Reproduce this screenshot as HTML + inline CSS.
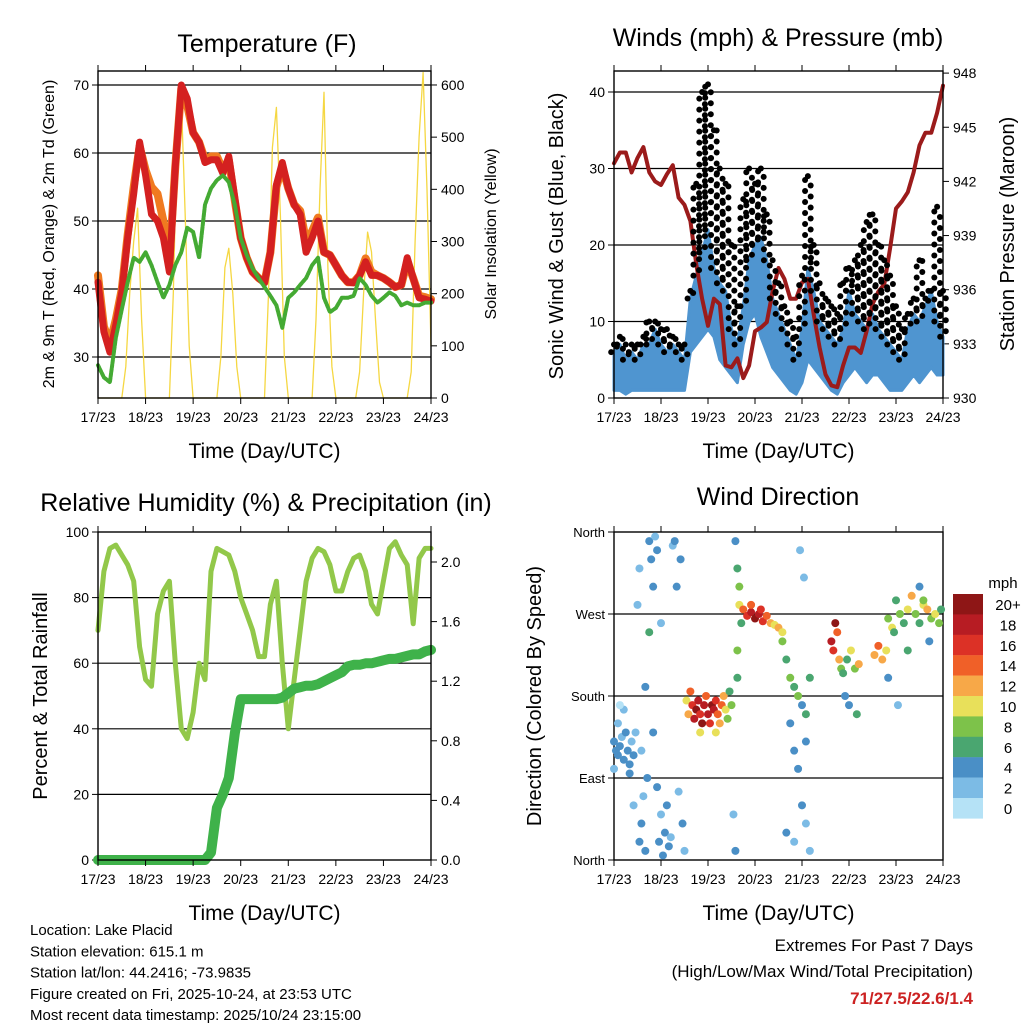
<!DOCTYPE html>
<html><head><meta charset="utf-8"><style>
html,body{margin:0;padding:0;background:#fff}
svg text{font-family:"Liberation Sans",Arial,sans-serif;fill:#000}
</style></head><body>
<svg id="chart" width="1024" height="1024" viewBox="0 0 1024 1024" xmlns="http://www.w3.org/2000/svg"></svg>
<script>
// ---------- data (3-hourly unless noted) ----------
const tempRed = [41,33.7,30.7,34.7,39.5,47.5,54,61.6,56.7,51,50,47.5,42.5,58,70,68,63,61.6,58.6,59,59,57,59.5,53.4,47.5,44.6,42.5,41.6,40.9,45.4,55.3,58.6,54.8,52.4,51,45.4,47.5,50,45.4,45,43.5,42,41,40.9,42,44,42,42,41.6,41,40.3,40.6,44.6,41.6,38.7,38.5,38.2];
const tempOrange = [42,34.5,32,35.5,40,48,55,61,57.5,55,54,50,44,58,69.5,67,63,61.6,59,59.5,59.5,57.5,59,53,47.5,44.6,42.5,41.6,41,45.4,55,58,54.8,52.4,51.5,47,48.5,50.5,45.4,45,43.5,42,41,41,42,44.5,42.5,42,41.6,41,40.3,40.6,44,41.6,39,38.8,38.5];
const dewGreen = [28.8,27,26.3,32.8,37,41,44.6,44,45.4,43.5,41,38.7,40.6,43.5,45.4,49,48.4,44.6,52.4,54.8,56,56.7,55.7,52.4,47.5,45,43,41.6,40.3,39,37.6,34.3,38.7,39.5,40.6,41.6,43.5,44.6,38.7,36.6,37.2,38.7,38.7,39,41.6,40.6,39,38,38.7,39.5,39,37.6,38,37.6,37.6,38,38];
// solar, 2-hourly
const solar = [0,0,0,0,0,0,0,60,200,300,364,150,
  0,0,0,0,0,0,0,200,520,575,350,100,
  0,0,0,0,0,0,0,80,250,287,200,60,
  0,0,0,0,0,0,0,200,480,557,350,80,
  0,0,0,0,0,0,0,150,400,586,250,60,
  0,0,0,0,0,0,50,200,318,280,150,30,
  0,0,0,0,0,0,0,50,300,500,624,400,100];
const pressure = [943,943.6,943.6,942.5,943.3,943.9,942.5,942,941.8,942.4,942.9,941.1,940.7,939.8,937.4,935.5,934,935.5,935.2,931.8,931.7,932.2,931.1,931.8,933.7,933.9,934.2,935.9,937.2,936.6,935.5,935.5,936.4,936.6,934.6,932.8,931.3,930.7,930.6,931.8,932.8,932.8,932.5,933.7,935.2,935.9,936.3,938.3,940.5,940.9,941.4,942.5,944,944.7,944.7,945.8,947.3];
const windHigh = [6,7,5,6,5,7,7,9,7,6,7,6,5,13,16,19,22,17,15,14,9,7,12,18,20,21,18,13,11,9,7,5,9,17,14,10,9,8,7,9,14,11,10,9,11,9,8,7,6,5,9,11,10,12,14,10,8];
const windLow = [1,1,0.5,1,1,1,1,1,1,1,1,1,1,6,7,8,9,8,5,4,3,2,7,10,11,8,6,4,3,2,1,0.5,2,5,4,3,2,1,0.5,2,3,4,3,2,3,3,2,1,1,1,2,3,2,3,4,3,3];
const gustHigh = [7,8,7,7,7,8,10,10,9,9,8,7,7,14,28,40,41,35,30,28,20,12,26,30,28,30,24,18,15,12,10,8,16,29,20,15,13,12,11,15,17,18,20,23,24,20,18,16,12,9,11,13,18,13,14,25,14];
const rh = [70,88,95,96,93,90,85,65,55,53,75,82,85,60,40,37,45,60,55,88,95,94,93,88,80,75,70,62,62,78,85,60,40,55,70,85,92,95,94,90,82,82,88,92,93,88,78,75,85,95,97,93,90,72,92,95,95];
const rain = [0,0,0,0,0,0,0,0,0,0,0,0,0,0,0,0,0,0,0,0.05,0.35,0.44,0.55,0.85,1.08,1.08,1.08,1.08,1.08,1.08,1.08,1.09,1.12,1.15,1.16,1.17,1.17,1.18,1.2,1.22,1.24,1.26,1.3,1.31,1.31,1.32,1.32,1.33,1.34,1.35,1.35,1.36,1.37,1.38,1.38,1.4,1.41];
// wind direction observations
const dirHour = [0,1,2,3,4,5,6,7,8,9,10,11,2,5,8,0,3,10,
 13,14,15,16,17,18,19,20,21,22,23,24,25,16,20,18,22,26,14,12,24,13,28,30,32,34,36,27,29,31,33,35,
 37,38,39,40,41,42,43,44,45,46,47,48,49,50,51,52,53,54,55,56,57,58,60,59,44,52,
 62,63,64,64,65,63,62,61,63,
 66,68,70,72,74,76,78,80,82,84,86,70,75,
 86,88,90,92,94,96,98,90,92,94,96,98,92,100,88,95,97,98,100,
 111,112,113,114,115,116,117,119,121,123,125,118,120,124,133,135,137,139,
 140,142,144,146,148,150,152,154,156,158,160,162,164,166,167,140,145,150,156,143,158,161];
const dirDeg = [130,120,115,125,135,110,140,120,105,130,115,140,150,165,95,100,170,60,
 20,40,70,10,90,350,330,300,355,340,20,50,5,190,140,250,80,30,120,280,260,320,15,345,300,330,10,60,25,350,75,40,
 175,160,185,170,155,165,175,160,150,170,180,160,150,170,165,175,160,150,170,180,165,155,170,185,140,140,
 350,320,300,280,260,230,10,50,200,
 275,268,272,265,270,262,268,260,258,255,250,280,275,
 240,220,200,190,180,170,160,150,120,100,60,40,20,10,30,340,310,130,200,
 240,230,260,250,220,210,205,220,230,210,215,180,170,160,225,235,220,230,
 265,255,285,270,260,275,290,270,260,280,275,265,270,260,275,200,170,230,300,250,285,240];
const dirSpeed = [3,4,3,4,2,3,4,3,4,2,3,1,1,2,4,1,0,1,
 4,3,2,4,3,4,3,4,2,3,4,2,3,4,3,6,4,3,2,2,1,1,4,2,3,4,2,3,1,4,2,3,
 10,12,14,16,18,20,18,16,20,18,14,18,16,20,18,16,14,12,14,12,10,8,8,6,10,10,
 4,6,8,10,6,8,4,2,6,
 14,16,18,20,18,16,14,12,10,12,10,14,16,
 8,6,8,6,8,4,6,4,4,4,4,2,2,2,4,2,2,4,6,
 18,16,20,14,12,8,6,6,10,8,12,4,4,6,12,14,12,10,
 8,10,6,8,6,10,12,8,6,10,12,8,10,8,6,4,2,6,4,6,8,4];
const speedLabels = ["20+","18","16","14","12","10","8","6","4","2","0"];
const speedColors = ["#8e1616","#b71c23","#dc3126","#f06028","#f7a848","#e8e05a","#7dc24a","#4aa670","#4a8fc6","#7cbbe5","#b5e2f6"];
const dayLabels = ["17/23","18/23","19/23","20/23","21/23","22/23","23/23","24/23"];
const tempTicks = [30,40,50,60,70];
const solarTicks = [0,100,200,300,400,500,600];
const windTicks = [0,10,20,30,40];
const presTicks = [930,933,936,939,942,945,948];
const rhTicks = [0,20,40,60,80,100];
const rainTicks = ["0.0","0.4","0.8","1.2","1.6","2.0"];
const dirTicks = ["North","East","South","West","North"];

// ---------- helpers ----------
const svg = document.getElementById('chart');
const NS = 'http://www.w3.org/2000/svg';
function mk(tag, attrs, parent){const e=document.createElementNS(NS,tag);for(const k in attrs)e.setAttribute(k,attrs[k]);(parent||svg).appendChild(e);return e;}
function txt(s, x, y, size, anchor, parent, rot){const e=mk('text',{x:x,y:y,'font-size':size,'text-anchor':anchor||'middle'},parent);if(rot!==undefined)e.setAttribute('transform','rotate('+rot+' '+x+' '+y+')');e.textContent=s;return e;}
function grp(name){const g=mk('g',{});return g;}
const hoursOf = arr => arr.map((v,i)=>i*3);

function panel(P, name){
  const g = grp(name);
  const xs = h => P.x0 + h*(P.x1-P.x0)/168;
  const xa = grp(name+'-x-axis');
  dayLabels.forEach((d,i)=>{
    const x = xs(i*24);
    mk('line',{x1:x,y1:P.y1,x2:x,y2:P.y1+6,stroke:'#000','stroke-width':1},xa);
    mk('line',{x1:x,y1:P.y0,x2:x,y2:P.y0-6,stroke:'#000','stroke-width':1},xa);
    const t = txt(d, x, P.y1+24, 14, 'middle', xa);
    
    
  });
  const xt = txt('Time (Day/UTC)', (P.x0+P.x1)/2, P.y1+60, 21, 'middle', g);
  
  
  return {g, xs};
}
function frame(P, g){
  mk('rect',{x:P.x0,y:P.y0,width:P.x1-P.x0,height:P.y1-P.y0,fill:'none',stroke:'#000','stroke-width':1.4},g);
}
function hline(g,x0,x1,y){mk('line',{x1:x0,x2:x1,y1:y,y2:y,stroke:'#000','stroke-width':1.2},g);}
function tickL(g,P,y,label,size){mk('line',{x1:P.x0-6,x2:P.x0,y1:y,y2:y,stroke:'#000'},g);const t=txt(label,P.x0-9,y+5,size||14,'end',g);}
function tickR(g,P,y,label,size){mk('line',{x1:P.x1,x2:P.x1+6,y1:y,y2:y,stroke:'#000'},g);const t=txt(label,P.x1+10,y+5,size||14,'start',g);}
function poly(xs,ys,hours,vals,attrs,g){const pts=vals.map((v,i)=>xs(hours[i]).toFixed(1)+','+ys(v).toFixed(1)).join(' ');return mk('polyline',Object.assign({points:pts,fill:'none','stroke-linejoin':'round','stroke-linecap':'round'},attrs),g);}

// ---------- Panel 1: Temperature ----------
(function(){
  const P={x0:98,x1:431,y0:71,y1:398};
  const {g,xs}=panel(P,'temperature-panel');
  const yT=v=>357-(v-30)*6.8;
  const yS=v=>398-v*0.5217;
  const t=txt('Temperature (F)',267,52,25,'middle',g);
  tempTicks.forEach(v=>{hline(g,P.x0,P.x1,yT(v));tickL(g,P,yT(v),String(v));});
  solarTicks.forEach(v=>tickR(g,P,yS(v),String(v)));
  const sol=poly(xs,yS,solar.map((v,i)=>i*2),solar,{stroke:'#f5d742','stroke-width':1.3},g);
  
  
  const o=poly(xs,yT,hoursOf(tempOrange),tempOrange,{stroke:'#f07a20','stroke-width':8},g);
  
  
  const r=poly(xs,yT,hoursOf(tempRed),tempRed,{stroke:'#d42020','stroke-width':7},g);
  
  
  const d=poly(xs,yT,hoursOf(dewGreen),dewGreen,{stroke:'#44aa33','stroke-width':4,'stroke-dasharray':'3 1.5'},g);
  
  
  frame(P,g);
  const yl=txt('2m & 9m T (Red, Orange) & 2m Td (Green)',54,234,16,'middle',g,-90);
  const yr=txt('Solar Insolation (Yellow)',496,234,16,'middle',g,-90);
})();

// ---------- Panel 2: Winds & Pressure ----------
(function(){
  const P={x0:614,x1:943,y0:71,y1:398};
  const {g,xs}=panel(P,'winds-panel');
  const yW=v=>398-v*7.65;
  const yP=v=>398-(v-930)*18.05;
  const t=txt('Winds (mph) & Pressure (mb)',778,46,25,'middle',g);
  windTicks.forEach(v=>{if(v>0)hline(g,P.x0,P.x1,yW(v));tickL(g,P,yW(v),String(v));});
  presTicks.forEach(v=>tickR(g,P,yP(v),String(v)));
  const hrs=hoursOf(windHigh);
  const gg=grp('gust-dots');
  hrs.forEach((h,i)=>{
    const top=yW(gustHigh[i]), bot=yW(windHigh[i]);
    let k=0;
    for(let y=bot;y>=top-0.1;y-=5.5){
      const c=mk('circle',{cx:xs(h)+((k%2)?2.8:-2.8),cy:y,r:3,fill:'#000'},gg);
      
      
      k++;
    }
    const c2=mk('circle',{cx:xs(h),cy:top,r:3,fill:'#000'},gg);
    
    
  });
  const pts=hrs.map((h,i)=>xs(h)+','+yW(windHigh[i])).concat(hrs.slice().reverse().map((h,j)=>{const i=hrs.length-1-j;return xs(h)+','+yW(windLow[i]);})).join(' ');
  const band=mk('polygon',{points:pts,fill:'#4f95d0',stroke:'#4f95d0','stroke-width':3,'stroke-linejoin':'round'},g);
  
  
  const p=poly(xs,yP,hoursOf(pressure),pressure,{stroke:'#9b1b1b','stroke-width':4},g);
  
  
  frame(P,g);
  const yl=txt('Sonic Wind & Gust (Blue, Black)',563,236,20,'middle',g,-90);
  const yr=txt('Station Pressure (Maroon)',1014,234,20,'middle',g,-90);
})();

// ---------- Panel 3: RH & Precip ----------
(function(){
  const P={x0:98,x1:431,y0:532,y1:860};
  const {g,xs}=panel(P,'humidity-panel');
  const yR=v=>860-v*3.28;
  const yP=v=>860-v*149;
  const t=txt('Relative Humidity (%) & Precipitation (in)',266,511,25,'middle',g);
  rhTicks.forEach(v=>{if(v>0&&v<100)hline(g,P.x0,P.x1,yR(v));tickL(g,P,yR(v),String(v));});
  rainTicks.forEach(v=>tickR(g,P,yP(parseFloat(v)),v));
  const r=poly(xs,yR,hoursOf(rh),rh,{stroke:'#92c84a','stroke-width':5},g);
  
  
  const p=poly(xs,yP,hoursOf(rain),rain,{stroke:'#3fb24a','stroke-width':10},g);
  
  
  frame(P,g);
  const yl=txt('Percent & Total Rainfall',47,696,20,'middle',g,-90);
})();

// ---------- Panel 4: Wind Direction ----------
(function(){
  const P={x0:614,x1:943,y0:532,y1:860};
  const {g,xs}=panel(P,'wind-direction-panel');
  const yD=v=>860-v*(328/360);
  const t=txt('Wind Direction',778,505,25,'middle',g);
  dirTicks.forEach((s,i)=>{const y=yD(i*90);if(i>0&&i<4)hline(g,P.x0,P.x1,y);tickL(g,P,y,s,13);});
  const pg=grp('direction-points');
  dirHour.forEach((h,i)=>{
    const s=dirSpeed[i];
    const idx=Math.max(0,Math.min(10,10-Math.round(s/2)));
    const c=mk('circle',{cx:xs(h),cy:yD(dirDeg[i]),r:4,fill:speedColors[idx]},pg);
    
    
  });
  frame(P,g);
  const yl=txt('Direction (Colored By Speed)',541,696,20,'middle',g,-90);
  const lg=grp('speed-colorbar');
  const m=txt('mph',1003,588,15,'middle',lg);
  speedLabels.forEach((l,i)=>{
    const y=594+i*20.4;
    const r=mk('rect',{x:953,y:y,width:30,height:20.6,fill:speedColors[i]},lg);
    
    
    const tt=txt(l,1008,y+16,15,'middle',lg);
    
    
  });
})();

// ---------- footer ----------
(function(){
  const g=grp('station-info');
  const lines=['Location: Lake Placid','Station elevation: 615.1 m','Station lat/lon: 44.2416; -73.9835','Figure created on Fri, 2025-10-24, at 23:53 UTC','Most recent data timestamp: 2025/10/24 23:15:00'];
  lines.forEach((s,i)=>{const t=txt(s,30,935+i*21.3,15,'start',g);});
  const e=grp('extremes-summary');
  const a=txt('Extremes For Past 7 Days',973,951,17,'end',e);
  const b=txt('(High/Low/Max Wind/Total Precipitation)',973,977,17,'end',e);
  const c=txt('71/27.5/22.6/1.4',973,1004,17,'end',e);
  c.setAttribute('font-weight','bold');c.style.fill='#cc2222';
})();
</script>
</body></html>
